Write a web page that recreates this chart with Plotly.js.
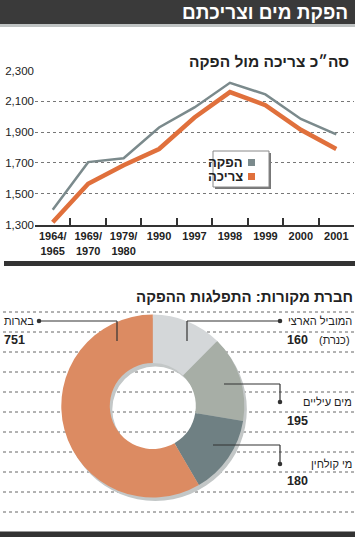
<!DOCTYPE html>
<html>
<head>
<meta charset="utf-8">
<script src="https://cdn.plot.ly/plotly-3.0.1.min.js"></script>
<style>
html,body{margin:0;padding:0;background:#fff;}
#chart{width:360px;height:537px;}
</style>
</head>
<body>
<div id="chart"></div>
<script>
// ---- data ----
var years = ['1964/<br>1965','1969/<br>1970','1979/<br>1980','1990','1997','1998','1999','2000','2001'];
var supply = [1395, 1705, 1730, 1930, 2060, 2220, 2145, 1985, 1885];   // הפקה
var demand = [1315, 1565, 1685, 1790, 1995, 2160, 2075, 1915, 1790];   // צריכה
var yTicks = [1300, 1500, 1700, 1900, 2100, 2300];

var sourceLabels = ['המוביל הארצי', 'מים עיליים', 'מי קולחין', 'בארות'];
var sourceValues = [160, 195, 180, 751];

// ---- helpers (pixel -> paper) ----
var W = 360, H = 537;
function px(x){ return x / W; }
function py(y){ return 1 - y / H; }

var HEB = 'Liberation Sans, Arial, sans-serif';
var LAT = 'Liberation Sans, Arial, sans-serif';
var GRAY = '#7b8a8c', ORANGE = '#e0703c';

var traces = [
  { type:'scatter', mode:'lines', x: years, y: supply, name:'הפקה',
    line:{color:GRAY, width:2.5}, hoverinfo:'skip', xaxis:'x', yaxis:'y' },
  { type:'scatter', mode:'lines', x: years, y: demand, name:'צריכה',
    line:{color:ORANGE, width:4.5}, hoverinfo:'skip', xaxis:'x', yaxis:'y' },
  { type:'pie', values:[1], labels:['shadow'], sort:false, hole:0.47,
    marker:{colors:['#c3c7c7'], line:{width:0}}, textinfo:'none', hoverinfo:'skip',
    domain:{x:[px(63.8), px(246.8)], y:[py(501), py(318)]} },
  { type:'pie', values: sourceValues, labels: sourceLabels, sort:false, direction:'clockwise',
    rotation:0, hole:0.47,
    marker:{colors:['#d4d7d9','#a7aea6','#6f8083','#dc8b62'], line:{width:0}},
    textinfo:'none', hoverinfo:'skip',
    domain:{x:[px(61.3), px(244.3)], y:[py(497.5), py(314.5)]} }
];

var shapes = [];
var annotations = [];

// header bar
shapes.push({type:'rect', xref:'paper', yref:'paper', x0:0, x1:px(355), y0:py(27), y1:py(24), fillcolor:'#bfc3c3', line:{width:0}, layer:'below'});
shapes.push({type:'rect', xref:'paper', yref:'paper', x0:0, x1:px(355), y0:py(24), y1:py(0), fillcolor:'#3a3a3a', line:{width:0}, layer:'below'});
annotations.push({xref:'paper', yref:'paper', x:px(350), y:py(12.5), xanchor:'right', yanchor:'middle',
  text:'<b>הפקת מים וצריכתם</b>', showarrow:false, font:{family:HEB, size:19, color:'#fff'}});

// subtitle 1
annotations.push({xref:'paper', yref:'paper', x:px(351), y:py(62), xanchor:'right', yanchor:'middle',
  text:'<b>סה״כ צריכה מול הפקה</b>', showarrow:false, font:{family:HEB, size:15.5, color:'#222'}});

// separator
shapes.push({type:'rect', xref:'paper', yref:'paper', x0:px(4), x1:px(355), y0:py(266), y1:py(261), fillcolor:'#333', line:{width:0}});

// legend box
shapes.push({type:'rect', xref:'paper', yref:'paper', x0:px(215), x1:px(271), y0:py(189), y1:py(153), fillcolor:'#777', line:{width:0}});
shapes.push({type:'rect', xref:'paper', yref:'paper', x0:px(213), x1:px(269), y0:py(187), y1:py(151), fillcolor:'#fff', line:{color:'#888', width:1}});
shapes.push({type:'rect', xref:'paper', yref:'paper', x0:px(248), x1:px(255), y0:py(166), y1:py(159), fillcolor:GRAY, line:{width:0}});
shapes.push({type:'rect', xref:'paper', yref:'paper', x0:px(248), x1:px(255), y0:py(180), y1:py(173), fillcolor:ORANGE, line:{width:0}});
annotations.push({xref:'paper', yref:'paper', x:px(245), y:py(162.5), xanchor:'right', yanchor:'middle',
  text:'<b>הפקה</b>', showarrow:false, font:{family:HEB, size:13, color:'#222'}});
annotations.push({xref:'paper', yref:'paper', x:px(245), y:py(176.5), xanchor:'right', yanchor:'middle',
  text:'<b>צריכה</b>', showarrow:false, font:{family:HEB, size:13, color:'#222'}});

// subtitle 2
annotations.push({xref:'paper', yref:'paper', x:px(355), y:py(296), xanchor:'right', yanchor:'middle',
  text:'<b>חברת מקורות: התפלגות ההפקה</b>', showarrow:false, font:{family:HEB, size:15, color:'#222'}});

// dotted background lines in bottom section
for (var yy = 312; yy <= 512; yy += 20) {
  shapes.push({type:'line', xref:'paper', yref:'paper', x0:px(3), x1:px(355), y0:py(yy), y1:py(yy),
    line:{color:'#666', width:1, dash:'dot'}, layer:'below'});
}

// bottom bar
shapes.push({type:'rect', xref:'paper', yref:'paper', x0:0, x1:px(355), y0:py(537), y1:py(531.5), fillcolor:'#333', line:{width:0}});

// leader lines + dots
function seg(x0,y0,x1,y1){
  shapes.push({type:'line', xref:'paper', yref:'paper', x0:px(x0), y0:py(y0), x1:px(x1), y1:py(y1), line:{color:'#333', width:1.2}});
}
function dot(x,y){
  shapes.push({type:'circle', xref:'paper', yref:'paper', x0:px(x-2.3), x1:px(x+2.3), y0:py(y+2.3), y1:py(y-2.3), fillcolor:'#333', line:{width:0}});
}
// המוביל הארצי
seg(280,321,187,321); seg(187,321,187,341); dot(280,321);
// מים עיליים
seg(224,384,280,384); seg(280,384,280,402); dot(280,402);
// מי קולחין
seg(213,445,280,445); seg(280,445,280,464); dot(280,464);
// בארות
seg(39,321,117,321); seg(117,321,117,341); dot(39,321);

function lab(x, y, anchor, txt, bold){
  annotations.push({xref:'paper', yref:'paper', x:px(x), y:py(y), xanchor:anchor, yanchor:'middle',
    text: bold ? '<b>'+txt+'</b>' : txt, showarrow:false,
    font:{family: bold ? LAT : HEB, size: bold ? 12.5 : 11, color:'#222'}});
}
lab(354, 321, 'right', sourceLabels[0], false);
lab(352, 340, 'right', '(כנרת)', false);
lab(285, 340, 'left', String(sourceValues[0]), true);
lab(354, 402, 'right', sourceLabels[1], false);
lab(285, 421, 'left', String(sourceValues[1]), true);
lab(354, 464, 'right', sourceLabels[2], false);
lab(285, 481, 'left', String(sourceValues[2]), true);
lab(2, 321, 'left', sourceLabels[3], false);
lab(2, 340, 'left', String(sourceValues[3]), true);

var layout = {
  width: W, height: H,
  margin:{l:0, r:0, t:0, b:0},
  paper_bgcolor:'#fff', plot_bgcolor:'rgba(0,0,0,0)',
  showlegend:false,
  xaxis:{
    domain:[px(35), px(354)],
    anchor:'y',
    type:'category',
    range:[-0.5, 8.5],
    tickson:'boundaries',
    tickangle:0,
    ticks:'inside', ticklen:7, tickwidth:2, tickcolor:'#333',
    showline:true, linecolor:'#333', linewidth:2.5,
    showgrid:false, zeroline:false,
    tickfont:{family:LAT, size:11, color:'#222', weight:'bold'},
    fixedrange:true
  },
  yaxis:{
    domain:[py(224.5), py(70.5)],
    anchor:'x',
    range:[1300, 2300],
    tickvals: yTicks,
    tickformat:',d',
    showgrid:true, gridcolor:'#777', gridwidth:1, griddash:'dot',
    zeroline:false, showline:false, ticks:'',
    tickfont:{family:LAT, size:11.5, color:'#222'},
    fixedrange:true
  },
  shapes: shapes,
  annotations: annotations
};

Plotly.newPlot('chart', traces, layout, {staticPlot:true, displayModeBar:false});
</script>
</body>
</html>
